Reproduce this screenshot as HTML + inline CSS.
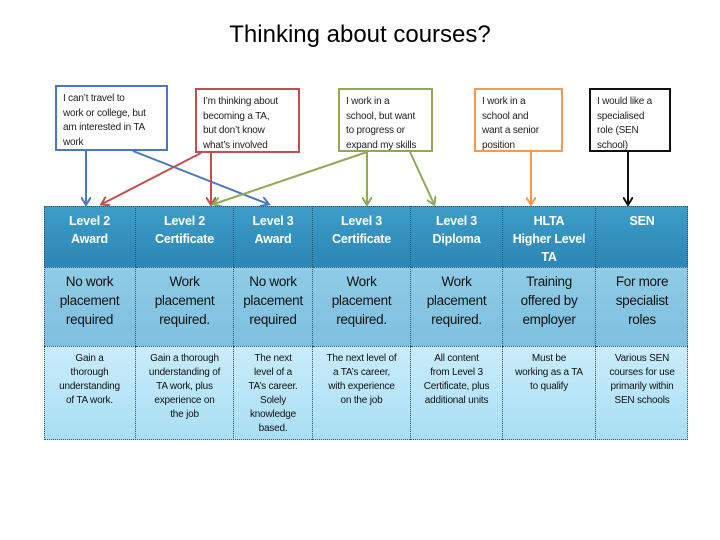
<!DOCTYPE html>
<html><head><meta charset="utf-8"><style>
body{margin:0;width:720px;height:540px;background:#fff;position:relative;overflow:hidden;font-family:"Liberation Sans",sans-serif}
.t{position:absolute;left:0;width:720px;top:21px;text-align:center;font-size:24px;color:#000}
.b{position:absolute;background:#fff;border:2px solid;font-size:10px;line-height:14.5px;padding:5px 4px 0 6px;box-sizing:border-box;color:#222;letter-spacing:-0.2px;white-space:nowrap}
.c{position:absolute;box-sizing:border-box;text-align:center;border-right:1px dotted #2a5670;white-space:nowrap}
.h{top:206px;height:61px;background:linear-gradient(#3d9dc9,#2d86b3);color:#fff;font-weight:bold;font-size:12.5px;line-height:18px;padding-top:6px;letter-spacing:-0.2px}
.m{top:267px;height:79px;background:linear-gradient(#8fcbe6,#7dc0df);font-size:13.5px;line-height:19px;padding-top:4px;color:#111;border-top:1px dotted #2a5670;letter-spacing:-0.3px}
.l{top:346px;height:94px;background:linear-gradient(#c9ecfa,#a9def4);font-size:10px;line-height:14px;padding-top:5px;color:#111;border-top:1px dotted #2a5670;letter-spacing:-0.2px}
</style></head><body>
<div class="t">Thinking about courses?</div>
<div class="b" style="left:55px;top:85px;width:113px;height:66px;border-color:#4a78c0">I can’t travel to<br>work or college, but<br>am interested in TA<br>work</div>
<div class="b" style="left:195px;top:88px;width:105px;height:65px;border-color:#c0504d">I’m thinking about<br>becoming a TA,<br>but don’t know<br>what’s involved</div>
<div class="b" style="left:338px;top:88px;width:95px;height:64px;border-color:#8faa55">I work in a<br>school, but want<br>to progress or<br>expand my skills</div>
<div class="b" style="left:474px;top:88px;width:89px;height:64px;border-color:#f59a52">I work in a<br>school and<br>want a senior<br>position</div>
<div class="b" style="left:589px;top:88px;width:82px;height:64px;border-color:#111">I would like a<br>specialised<br>role (SEN<br>school)</div>
<svg style="position:absolute;left:0;top:0" width="720" height="540">
<defs>
<marker id="ab" markerWidth="10" markerHeight="10" refX="7" refY="5" orient="auto" markerUnits="userSpaceOnUse"><path d="M0,0 L8,5 L0,10" fill="none" stroke="#4a78c0" stroke-width="2"/></marker>
<marker id="ar" markerWidth="10" markerHeight="10" refX="7" refY="5" orient="auto" markerUnits="userSpaceOnUse"><path d="M0,0 L8,5 L0,10" fill="none" stroke="#c0504d" stroke-width="2"/></marker>
<marker id="ag" markerWidth="10" markerHeight="10" refX="7" refY="5" orient="auto" markerUnits="userSpaceOnUse"><path d="M0,0 L8,5 L0,10" fill="none" stroke="#8faa55" stroke-width="2"/></marker>
<marker id="ao" markerWidth="10" markerHeight="10" refX="7" refY="5" orient="auto" markerUnits="userSpaceOnUse"><path d="M0,0 L8,5 L0,10" fill="none" stroke="#f59a52" stroke-width="2"/></marker>
<marker id="ak" markerWidth="10" markerHeight="10" refX="7" refY="5" orient="auto" markerUnits="userSpaceOnUse"><path d="M0,0 L8,5 L0,10" fill="none" stroke="#111" stroke-width="2"/></marker>
</defs>
<g stroke-width="2" fill="none">
<line x1="86" y1="151" x2="86" y2="204" stroke="#4a78c0" marker-end="url(#ab)"/>
<line x1="133" y1="151" x2="268" y2="204" stroke="#4a78c0" marker-end="url(#ab)"/>
<line x1="201" y1="153" x2="102" y2="204" stroke="#c0504d" marker-end="url(#ar)"/>
<line x1="211" y1="153" x2="211" y2="204" stroke="#c0504d" marker-end="url(#ar)"/>
<line x1="367" y1="152" x2="214" y2="204" stroke="#8faa55" marker-end="url(#ag)"/>
<line x1="367" y1="152" x2="367" y2="204" stroke="#8faa55" marker-end="url(#ag)"/>
<line x1="410" y1="152" x2="434" y2="204" stroke="#8faa55" marker-end="url(#ag)"/>
<line x1="531" y1="152" x2="531" y2="204" stroke="#f59a52" marker-end="url(#ao)"/>
<line x1="628" y1="152" x2="628" y2="204" stroke="#111" marker-end="url(#ak)"/>
</g></svg>
<div style="position:absolute;left:44px;top:206px;width:644px;height:234px;border:1px dotted #2a5670;box-sizing:border-box;pointer-events:none;z-index:2"></div>

<div class="c h" style="left:44px;width:92px">Level 2<br>Award</div>
<div class="c h" style="left:136px;width:98px">Level 2<br>Certificate</div>
<div class="c h" style="left:234px;width:79px">Level 3<br>Award</div>
<div class="c h" style="left:313px;width:98px">Level 3<br>Certificate</div>
<div class="c h" style="left:411px;width:92px">Level 3<br>Diploma</div>
<div class="c h" style="left:503px;width:93px">HLTA<br>Higher Level<br>TA</div>
<div class="c h" style="left:596px;width:92px;border-right:none">SEN</div>

<div class="c m" style="left:44px;width:92px">No work<br>placement<br>required</div>
<div class="c m" style="left:136px;width:98px">Work<br>placement<br>required.</div>
<div class="c m" style="left:234px;width:79px">No work<br>placement<br>required</div>
<div class="c m" style="left:313px;width:98px">Work<br>placement<br>required.</div>
<div class="c m" style="left:411px;width:92px">Work<br>placement<br>required.</div>
<div class="c m" style="left:503px;width:93px">Training<br>offered by<br>employer</div>
<div class="c m" style="left:596px;width:92px;border-right:none">For more<br>specialist<br>roles</div>

<div class="c l" style="left:44px;width:92px">Gain a<br>thorough<br>understanding<br>of TA work.</div>
<div class="c l" style="left:136px;width:98px">Gain a thorough<br>understanding of<br>TA work, plus<br>experience on<br>the job</div>
<div class="c l" style="left:234px;width:79px">The next<br>level of a<br>TA’s career.<br>Solely<br>knowledge<br>based.</div>
<div class="c l" style="left:313px;width:98px">The next level of<br>a TA’s career,<br>with experience<br>on the job</div>
<div class="c l" style="left:411px;width:92px">All content<br>from Level 3<br>Certificate, plus<br>additional units</div>
<div class="c l" style="left:503px;width:93px">Must be<br>working as a TA<br>to qualify</div>
<div class="c l" style="left:596px;width:92px;border-right:none">Various SEN<br>courses for use<br>primarily within<br>SEN schools</div>
</body></html>
